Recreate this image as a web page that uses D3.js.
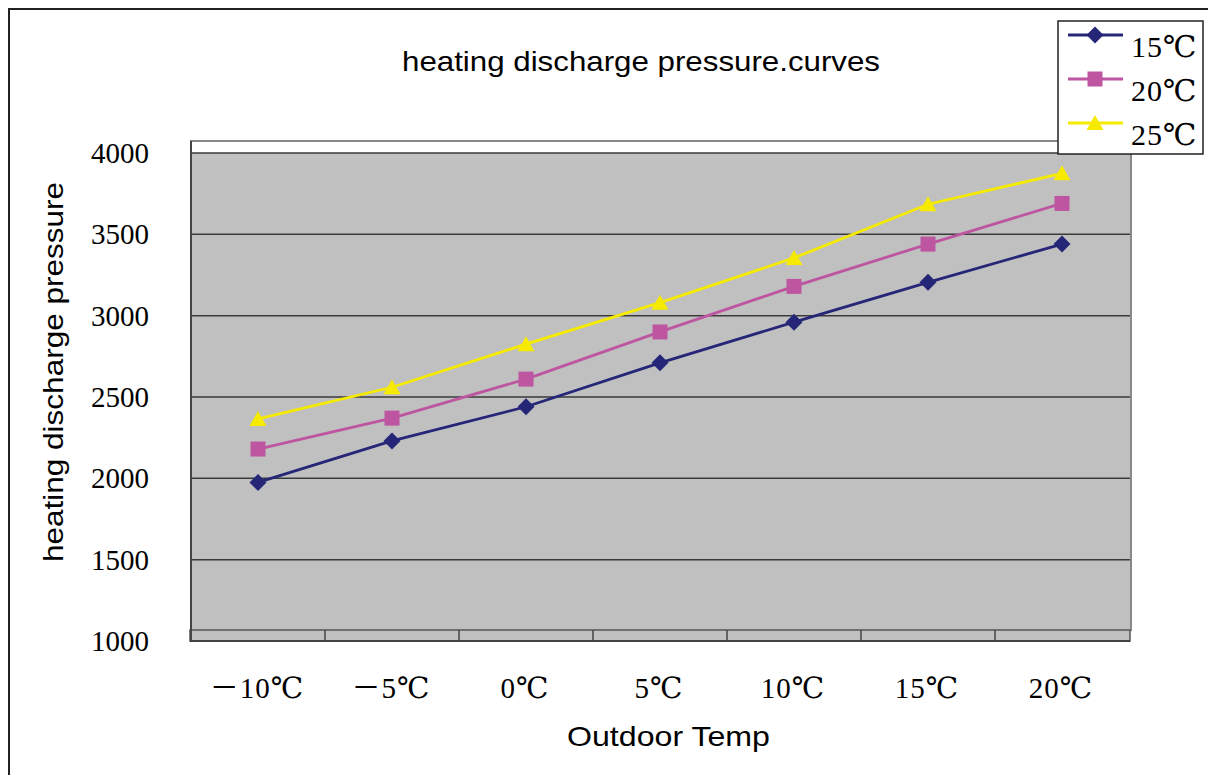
<!DOCTYPE html>
<html><head><meta charset="utf-8">
<script src="https://cdn.jsdelivr.net/npm/d3@7"></script>
<style>html,body{margin:0;padding:0;background:#fff;}svg{display:block;}</style>
</head><body>
<svg id="chart" width="1208" height="775"></svg>
<script>
const categories = ["－10℃","－5℃","0℃","5℃","10℃","15℃","20℃"];
const seriesNames = ["15℃","20℃","25℃"];
const series15 = [1975, 2230, 2440, 2710, 2960, 3205, 3440];
const series20 = [2180, 2370, 2610, 2900, 3180, 3440, 3690];
const series25 = [2365, 2560, 2825, 3080, 3355, 3685, 3875];
const yTicks = [1000, 1500, 2000, 2500, 3000, 3500, 4000];

const colors = ["#262678", "#bd55a0", "#f5ea00"];
const shapes = ["diamond", "square", "triangle"];
const allSeries = [series15, series20, series25];

const svg = d3.select("#chart");
const serif = "'Liberation Serif','DejaVu Serif','Noto Sans CJK SC',serif";
const sans = "'Liberation Sans',Arial,sans-serif";

// outer frame
svg.append("rect").attr("x",9).attr("y",9).attr("width",1220).attr("height",790)
  .attr("fill","#fff").attr("stroke","#222").attr("stroke-width",2);

const x = d3.scaleBand().domain(categories).range([191,1129]).padding(0);
const y = d3.scaleLinear().domain([1000,4000]).range([641,153]);

// back wall
svg.append("rect").attr("x",191).attr("y",141).attr("width",940).attr("height",489)
  .attr("fill","#fff").attr("stroke","#888").attr("stroke-width",2);
svg.append("rect").attr("x",192).attr("y",y(4000)).attr("width",938).attr("height",630-y(4000))
  .attr("fill","#c0c0c0");

// gridlines
svg.append("g").selectAll("line").data(yTicks.filter(d=>d>1000)).join("line")
  .attr("x1",191).attr("x2",1130).attr("y1",d=>y(d)).attr("y2",d=>y(d))
  .attr("stroke","#3a3a3a").attr("stroke-width",1.5);

// floor
svg.append("rect").attr("x",190).attr("y",630).attr("width",940).attr("height",11)
  .attr("fill","#c0c0c0").attr("stroke","#555").attr("stroke-width",1.5);
svg.append("line").attr("x1",190).attr("x2",1130).attr("y1",641).attr("y2",641)
  .attr("stroke","#444").attr("stroke-width",2);
// floor ticks
svg.append("g").selectAll("line").data(categories.slice(1)).join("line")
  .attr("x1",d=>x(d)).attr("x2",d=>x(d)).attr("y1",630).attr("y2",641)
  .attr("stroke","#444").attr("stroke-width",1.5);
// left axis
svg.append("line").attr("x1",191).attr("x2",191).attr("y1",141).attr("y2",641)
  .attr("stroke","#444").attr("stroke-width",2);

// y tick labels
svg.append("g").selectAll("text").data(yTicks).join("text")
  .attr("x",149).attr("y",d=>y(d)).attr("dy","0.35em").attr("text-anchor","end")
  .attr("font-family",serif).attr("font-size",29).attr("fill","#000").text(d=>d);

// x tick labels
svg.append("g").selectAll("text").data(categories).join("text")
  .attr("x",d=>x(d)+x.bandwidth()/2 - 1).attr("y",688).attr("dy","0.35em").attr("text-anchor","middle")
  .attr("font-family",serif).attr("font-size",29).attr("letter-spacing",1).attr("fill","#000").text(d=>d);

// titles
svg.append("text").attr("x",402).attr("y",71).attr("font-family",sans).attr("font-size",28)
  .attr("textLength",478).attr("lengthAdjust","spacingAndGlyphs").text("heating discharge pressure.curves");
svg.append("text").attr("x",567).attr("y",746).attr("font-family",sans).attr("font-size",28)
  .attr("textLength",203).attr("lengthAdjust","spacingAndGlyphs").text("Outdoor Temp");
svg.append("text").attr("transform","translate(63,562) rotate(-90)").attr("font-family",sans).attr("font-size",27)
  .attr("textLength",380).attr("lengthAdjust","spacingAndGlyphs").text("heating discharge pressure");

function markerPath(shape){
  if(shape==="diamond") return "M0,-8.5L8.5,0L0,8.5L-8.5,0Z";
  if(shape==="square") return "M-7.5,-7.5H7.5V7.5H-7.5Z";
  return "M0,-8L8.5,7L-8.5,7Z";
}

const line = d3.line().x((d,i)=>x(categories[i])+x.bandwidth()/2).y(d=>y(d));
allSeries.forEach((s,k)=>{
  svg.append("path").datum(s).attr("d",line).attr("fill","none")
    .attr("stroke",colors[k]).attr("stroke-width",2.8);
  svg.append("g").selectAll("path").data(s).join("path")
    .attr("transform",(d,i)=>`translate(${x(categories[i])+x.bandwidth()/2},${y(d)})`)
    .attr("d",markerPath(shapes[k])).attr("fill",colors[k]);
});

// legend
const lg = svg.append("g");
lg.append("rect").attr("x",1058).attr("y",21).attr("width",145).attr("height",133)
  .attr("fill","#fff").attr("stroke","#222").attr("stroke-width",1.5);
seriesNames.forEach((n,k)=>{
  const ly = 35 + k*44;
  lg.append("line").attr("x1",1068).attr("x2",1123).attr("y1",ly).attr("y2",ly)
    .attr("stroke",colors[k]).attr("stroke-width",2.8);
  lg.append("path").attr("transform",`translate(1095,${ly})`).attr("d",markerPath(shapes[k])).attr("fill",colors[k]);
  lg.append("text").attr("x",1131).attr("y",ly+11).attr("dy","0.35em")
    .attr("font-family",serif).attr("font-size",30).attr("letter-spacing",1).text(n);
});
</script>
</body></html>
